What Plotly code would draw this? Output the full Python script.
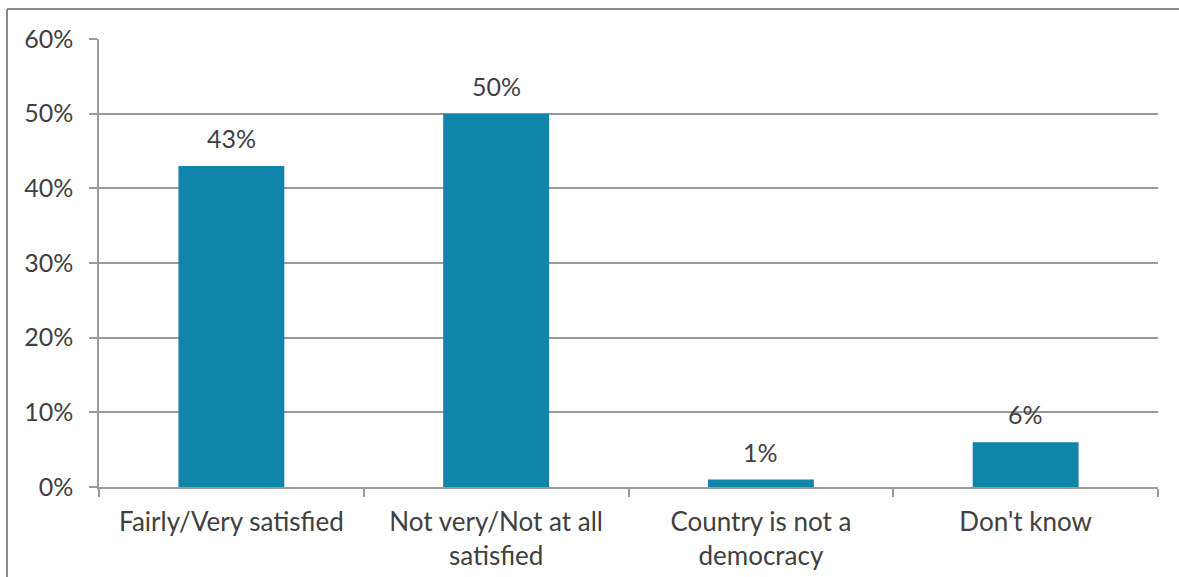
import plotly.graph_objects as go

categories = ["Fairly/Very satisfied", "Not very/Not at all<br>satisfied",
              "Country is not a<br>democracy", "Don't know"]
values = [43, 50, 1, 6]
labels = ["43%", "50%", "1%", "6%"]
y_ticks = [0, 10, 20, 30, 40, 50, 60]
y_tick_text = ["0%", "10%", "20%", "30%", "40%", "50%", "60%"]

BAR = "#1084AB"
GRID = "#9a9a9a"
TXT = "#404040"
FONT = "Lato, 'Open Sans', sans-serif"

fig = go.Figure(go.Bar(
    x=categories, y=values,
    marker=dict(color=BAR, line=dict(width=0)),
))

for c, v, t in zip(categories, values, labels):
    fig.add_annotation(x=c, y=v, text=t, showarrow=False, yanchor="bottom",
                       yshift=11, font=dict(size=25, color=TXT, family=FONT))

fig.update_layout(
    width=1179, height=577,
    margin=dict(l=99, r=21, t=39, b=90),
    paper_bgcolor="white", plot_bgcolor="white",
    bargap=0.6, showlegend=False,
    font=dict(family=FONT, color=TXT, size=25),
    xaxis=dict(
        showline=True, linecolor=GRID, linewidth=1.5,
        ticks="outside", tickson="boundaries", ticklen=8, tickcolor=GRID, tickwidth=1.5,
        tickfont=dict(size=26, color=TXT, family=FONT),
        ticklabelstandoff=11, automargin=False,
        showgrid=False,
    ),
    yaxis=dict(
        range=[0, 60], tickvals=y_ticks, ticktext=y_tick_text,
        showline=True, linecolor=GRID, linewidth=1.5,
        ticks="outside", ticklen=8, tickcolor=GRID, tickwidth=1.5,
        showgrid=True, gridcolor=GRID, gridwidth=1.5,
        tickfont=dict(size=25, color=TXT, family=FONT),
        ticklabelstandoff=11, automargin=False,
        zeroline=False,
    ),
    shapes=[
        dict(type="line", xref="paper", yref="paper",
             x0=(7 - 99) / 1059, x1=(7 - 99) / 1059, y0=-0.3, y1=1 + 30 / 448,
             line=dict(color="#8a8a8a", width=2)),
        dict(type="line", xref="paper", yref="paper",
             x0=(7 - 99) / 1059, x1=1.05, y0=1 + 30 / 448, y1=1 + 30 / 448,
             line=dict(color="#8a8a8a", width=2)),
    ],
)

fig.write_html("out.html", config={"displayModeBar": False},
               post_script="document.body.style.margin='0';")
